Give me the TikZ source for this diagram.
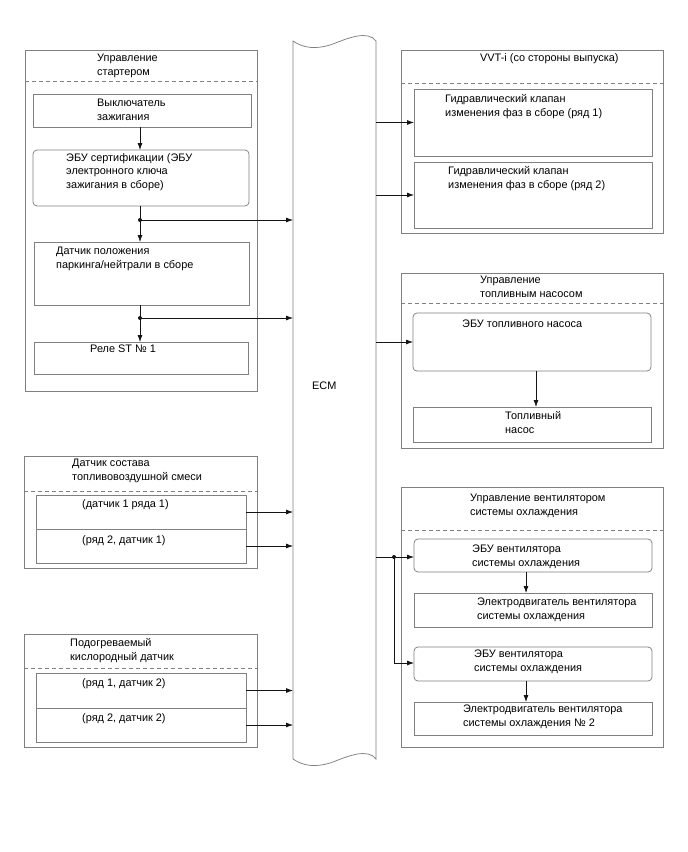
\documentclass[tikz,border=0pt]{standalone}
\usepackage{fontspec}
\setmainfont{Liberation Sans}
\usetikzlibrary{arrows.meta,calc}
\definecolor{bordergray}{RGB}{128,128,128}
\definecolor{linedark}{RGB}{20,20,20}
\newcommand{\bx}[6]{%
  \pgfmathsetmacro{\bw}{#4-#2}\pgfmathsetmacro{\bh}{#5-#3}%
  \node[boxbase,#6,minimum width=\bw pt,minimum height=\bh pt,anchor=north west] (#1) at (#2,#3) {};}
\begin{document}
\begin{tikzpicture}[x=1pt,y=-1pt,
  boxbase/.style={draw=bordergray,line width=0.75pt,inner sep=0pt,outer sep=0pt,rectangle},
  roundbox/.style={rounded corners=4pt},
  plainbox/.style={},
  txt/.style={anchor=base west,inner sep=0pt,align=left,font=\fontsize{10.9}{13.5}\selectfont},
  dashline/.style={draw=bordergray,line width=0.75pt,dash pattern=on 4pt off 3pt},
  arr/.style={draw=linedark,line width=0.75pt,-{Latex[length=7pt,width=5pt]}},
  conn/.style={draw=linedark,line width=0.75pt},
  dot/.style={circle,fill=linedark,inner sep=0pt,minimum size=4pt}]
\useasboundingbox (0,0) rectangle (688,852);
\fill[white] (0,0) rectangle (688,852);

% ECM
\node[inner sep=0pt,outer sep=0pt,minimum width=83pt,minimum height=718pt,anchor=north west] (ecm) at (293,41) {};
\draw[draw=bordergray,line width=0.75pt]
  (293,41) .. controls (303,48) and (316,50) .. (333,44)
  .. controls (348,38) and (368,30) .. (376,41)
  -- (376,759)
  .. controls (368,748) and (348,756) .. (333,762)
  .. controls (316,768) and (303,766) .. (293,759) -- cycle;
\node[txt] (ecmlabel) at (312,389) {ECM};

% Starter panel
\bx{p1}{25}{50}{257}{391}{plainbox}
\draw[dashline] (p1.west |- 0,81) -- (p1.east |- 0,81);
\node[txt] (p1t) at (97,75) {Управление\\стартером};
\bx{s1}{33}{94}{251}{127}{plainbox}
\node[txt] (s1t) at (97,120) {Выключатель\\зажигания};
\bx{s2}{33}{150}{249}{206}{roundbox}
\node[txt] (s2t) at (66,188) {ЭБУ сертификации (ЭБУ\\электронного ключа\\зажигания в сборе)};
\bx{s3}{34}{242}{249}{305}{plainbox}
\node[txt] (s3t) at (56,268) {Датчик положения\\паркинга/нейтрали в сборе};
\bx{s4}{34}{342}{248}{374}{plainbox}
\node[txt] (s4t) at (90,352) {Реле ST № 1};
\draw[arr] (s1.south -| 140,0) -- (s2.north -| 140,0);
\draw[arr] (s2.south -| 140,0) -- (s3.north -| 140,0);
\draw[arr] (s3.south -| 140,0) -- (s4.north -| 140,0);
\node[dot] (j1) at (140,220) {};
\node[dot] (j2) at (140,318) {};
\draw[arr] (j1.center) -- (j1 -| ecm.west);
\draw[arr] (j2.center) -- (j2 -| ecm.west);

% Mixture sensor panel
\bx{p4}{24}{456}{257}{568}{plainbox}
\draw[dashline] (p4.west |- 0,491) -- (p4.east |- 0,491);
\node[txt] (p4t) at (72,480) {Датчик состава\\топливовоздушной смеси};
\bx{m1}{36}{495}{246}{529}{plainbox}
\node[txt] (m1t) at (82,507) {(датчик 1 ряда 1)};
\bx{m2}{36}{529}{246}{563}{plainbox}
\node[txt] (m2t) at (82,543) {(ряд 2, датчик 1)};
\draw[arr] (m1.east) -- (m1.east -| ecm.west);
\draw[arr] (m2.east) -- (m2.east -| ecm.west);

% O2 sensor panel
\bx{p5}{24}{634}{257}{747}{plainbox}
\draw[dashline] (p5.west |- 0,668) -- (p5.east |- 0,668);
\node[txt] (p5t) at (70,660) {Подогреваемый\\кислородный датчик};
\bx{o1}{36}{673}{246}{708}{plainbox}
\node[txt] (o1t) at (82,686) {(ряд 1, датчик 2)};
\bx{o2}{36}{708}{246}{742}{plainbox}
\node[txt] (o2t) at (82,721) {(ряд 2, датчик 2)};
\draw[arr] (o1.east) -- (o1.east -| ecm.west);
\draw[arr] (o2.east) -- (o2.east -| ecm.west);

% VVT panel
\bx{p2}{401}{50}{663}{233}{plainbox}
\draw[dashline] (p2.west |- 0,83) -- (p2.east |- 0,83);
\node[txt] (p2t) at (480,61) {VVT-i (со стороны выпуска)};
\bx{v1}{414}{89}{652}{156}{plainbox}
\node[txt] (v1t) at (445,116) {Гидравлический клапан\\изменения фаз в сборе (ряд 1)};
\bx{v2}{414}{162}{652}{228}{plainbox}
\node[txt] (v2t) at (448,188) {Гидравлический клапан\\изменения фаз в сборе (ряд 2)};
\draw[arr] (v1.west -| ecm.east) -- (v1.west);
\draw[arr] (v2.west -| ecm.east) -- (v2.west);

% Fuel pump panel
\bx{p3}{401}{273}{663}{448}{plainbox}
\draw[dashline] (p3.west |- 0,303) -- (p3.east |- 0,303);
\node[txt] (p3t) at (480,297) {Управление\\топливным насосом};
\bx{f1}{413}{313}{651}{371}{roundbox}
\node[txt] (f1t) at (462,327) {ЭБУ топливного насоса};
\bx{f2}{413}{407}{651}{442}{plainbox}
\node[txt] (f2t) at (505,433) {Топливный\\насос};
\draw[arr] (f1.west -| ecm.east) -- (f1.west);
\draw[arr] (f1.south -| 536,0) -- (f2.north -| 536,0);

% Cooling fan panel
\bx{p6}{401}{487}{663}{747}{plainbox}
\draw[dashline] (p6.west |- 0,530) -- (p6.east |- 0,530);
\node[txt] (p6t) at (470,515) {Управление вентилятором\\системы охлаждения};
\bx{c1}{414}{539}{652}{572}{roundbox}
\node[txt] (c1t) at (472,566) {ЭБУ вентилятора\\системы охлаждения};
\bx{c2}{414}{593}{652}{627}{plainbox}
\node[txt] (c2t) at (477,619) {Электродвигатель вентилятора\\системы охлаждения};
\bx{c3}{414}{647}{652}{681}{roundbox}
\node[txt] (c3t) at (474,671) {ЭБУ вентилятора\\системы охлаждения};
\bx{c4}{414}{702}{652}{735}{plainbox}
\node[txt] (c4t) at (463,726) {Электродвигатель вентилятора\\системы охлаждения № 2};
\node[dot] (j3) at (394,557) {};
\coordinate (j4) at (394,663);
\draw[arr] (j3 -| ecm.east) -- (j3 -| c1.west);
\draw[conn] (j3.center) -- (j4);
\draw[arr] (j4) -- (j4 -| c3.west);
\draw[arr] (c1.south -| 526,0) -- (c2.north -| 526,0);
\draw[arr] (c3.south -| 526,0) -- (c4.north -| 526,0);
\end{tikzpicture}
\end{document}
